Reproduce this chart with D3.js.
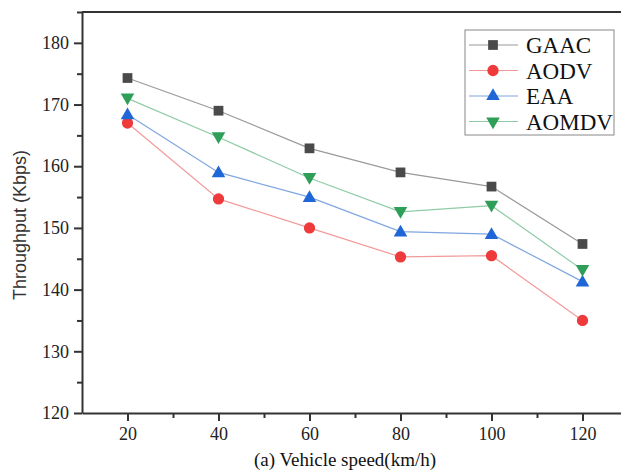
<!DOCTYPE html>
<html>
<head>
<meta charset="utf-8">
<script src="https://cdn.jsdelivr.net/npm/d3@7"></script>
<style>
  html, body { margin: 0; padding: 0; background: #fff; }
  svg { display: block; }
</style>
</head>
<body>
<div id="chart"></div>
<script>
const WIDTH = 621;
const HEIGHT = 472;

// data
const speeds = [20, 40, 60, 80, 100, 120];
const seriesNames = ["GAAC", "AODV", "EAA", "AOMDV"];
const gaac = [174.3, 169.0, 162.9, 159.0, 156.7, 147.4];
const aodv = [167.0, 154.7, 150.0, 145.3, 145.5, 135.0];
const eaa = [168.4, 159.0, 155.0, 149.4, 149.0, 141.3];
const aomdv = [171.0, 164.7, 158.1, 152.6, 153.6, 143.2];
const yTicks = [120, 130, 140, 150, 160, 170, 180];
const xTicks = [20, 40, 60, 80, 100, 120];

const series = [
  { name: "GAAC", values: gaac, line: "#9a9a9a", fill: "#4a4a4a", shape: d3.symbolSquare, size: 95 },
  { name: "AODV", values: aodv, line: "#f29a9a", fill: "#ee3a3a", shape: d3.symbolCircle, size: 100 },
  { name: "EAA", values: eaa, line: "#7fa6e0", fill: "#1f66d6", shape: d3.symbolTriangle, size: 80 },
  { name: "AOMDV", values: aomdv, line: "#8fcba6", fill: "#2e9e58", shape: d3.symbolTriangle, size: 80, flip: true }
];

const SERIF = '"Liberation Serif", "Times New Roman", serif';
const SANS = '"Liberation Sans", Arial, sans-serif';

const LEFT = 82, TOP = 12, BOTTOM = 413, RIGHT = 628;

const x = d3.scaleLinear().domain([10, 130]).range([LEFT, RIGHT]);
const y = d3.scaleLinear().domain([120, 185]).range([BOTTOM, TOP]);

const svg = d3.select("#chart").append("svg")
  .attr("width", WIDTH)
  .attr("height", HEIGHT);

// frame top line
svg.append("line")
  .attr("x1", LEFT).attr("x2", RIGHT)
  .attr("y1", TOP).attr("y2", TOP)
  .attr("stroke", "#333").attr("stroke-width", 2);

// minor ticks
svg.append("g")
  .attr("transform", `translate(0,${BOTTOM})`)
  .call(d3.axisBottom(x).tickValues(d3.range(30, 131, 20)).tickSize(5).tickFormat(""))
  .call(g => g.select(".domain").remove())
  .call(g => g.selectAll("line").attr("stroke", "#333").attr("stroke-width", 2));

svg.append("g")
  .attr("transform", `translate(${LEFT},0)`)
  .call(d3.axisLeft(y).tickValues(d3.range(125, 186, 10)).tickSize(5).tickFormat(""))
  .call(g => g.select(".domain").remove())
  .call(g => g.selectAll("line").attr("stroke", "#333").attr("stroke-width", 2));

// major axes
const xAxis = svg.append("g")
  .attr("transform", `translate(0,${BOTTOM})`)
  .call(d3.axisBottom(x).tickValues(xTicks).tickSize(8).tickSizeOuter(0).tickPadding(6));
xAxis.select(".domain").attr("stroke", "#333").attr("stroke-width", 2);
xAxis.selectAll("line").attr("stroke", "#333").attr("stroke-width", 2);
xAxis.selectAll("text").style("font-family", SERIF).style("font-size", "18px").attr("fill", "#222");

const yAxis = svg.append("g")
  .attr("transform", `translate(${LEFT},0)`)
  .call(d3.axisLeft(y).tickValues(yTicks).tickSize(8).tickSizeOuter(0).tickPadding(5));
yAxis.select(".domain").attr("stroke", "#333").attr("stroke-width", 2);
yAxis.selectAll("line").attr("stroke", "#333").attr("stroke-width", 2);
yAxis.selectAll("text").style("font-family", SERIF).style("font-size", "18px").attr("fill", "#222");

// axis titles
svg.append("text")
  .attr("x", 345).attr("y", 466)
  .attr("text-anchor", "middle")
  .style("font-family", SERIF).style("font-size", "19px")
  .attr("fill", "#111")
  .text("(a) Vehicle speed(km/h)");

svg.append("text")
  .attr("transform", "translate(26,225) rotate(-90)")
  .attr("text-anchor", "middle")
  .style("font-family", SANS).style("font-size", "18px")
  .attr("fill", "#333")
  .text("Throughput (Kbps)");

// lines and markers
const line = d3.line()
  .x((d, i) => x(speeds[i]))
  .y(d => y(d));

const sym = s => d3.symbol().type(s.shape).size(s.size);

series.forEach(s => {
  svg.append("path")
    .attr("d", line(s.values))
    .attr("fill", "none")
    .attr("stroke", s.line)
    .attr("stroke-width", 1.2);
  svg.append("g").selectAll("path")
    .data(s.values)
    .join("path")
    .attr("d", sym(s))
    .attr("transform", (d, i) => `translate(${x(speeds[i])},${y(d) + (s.shape === d3.symbolTriangle ? (s.flip ? -1 : 1) : 0)})${s.flip ? " rotate(180)" : ""}`)
    .attr("fill", s.fill);
});

// legend
const legend = svg.append("g");
legend.append("rect")
  .attr("x", 465).attr("y", 30)
  .attr("width", 149).attr("height", 105)
  .attr("fill", "#fff")
  .attr("stroke", "#888").attr("stroke-width", 1);

series.forEach((s, i) => {
  const ly = 45 + i * 25.5;
  legend.append("line")
    .attr("x1", 469).attr("x2", 518)
    .attr("y1", ly).attr("y2", ly)
    .attr("stroke", s.line).attr("stroke-width", 1.2);
  legend.append("path")
    .attr("d", sym(s))
    .attr("transform", `translate(493,${ly})${s.flip ? " rotate(180)" : ""}`)
    .attr("fill", s.fill);
  legend.append("text")
    .attr("x", 526).attr("y", ly + 8)
    .style("font-family", SERIF).style("font-size", "23px")
    .attr("fill", "#111")
    .text(seriesNames[i]);
});
</script>
</body>
</html>
